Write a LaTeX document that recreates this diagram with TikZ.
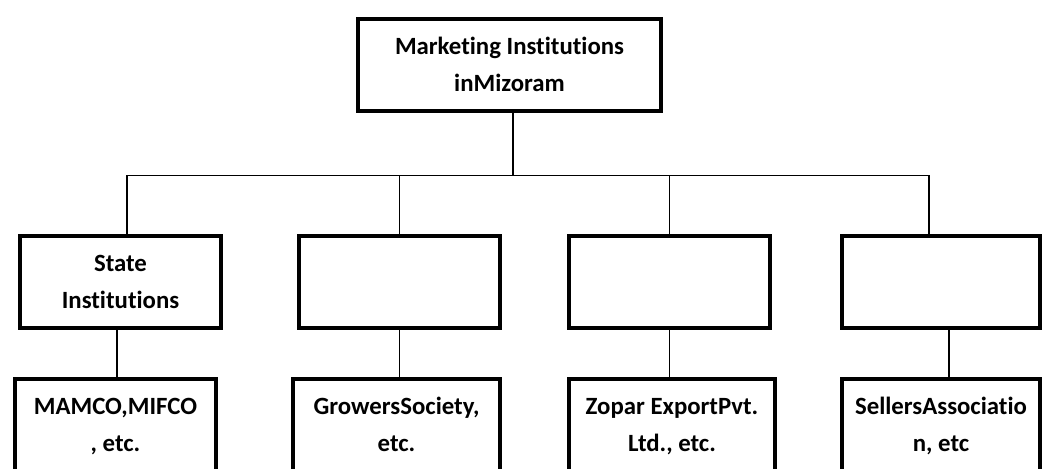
\documentclass[tikz,border=0pt]{standalone}
\usepackage{fontspec}
\setmainfont{Carlito}[Ligatures=NoCommon]
\usetikzlibrary{positioning}

\begin{document}
\begin{tikzpicture}[
        x=0.5pt, y=-0.5pt,
        box/.style={rectangle, draw, line width=2pt, align=center, inner sep=0pt,
          minimum height=46pt, text height=28.6pt, text depth=2.6pt,
          font=\fontsize{12.4}{18.5}\selectfont\bfseries},
        link/.style={line width=0.7pt}
      ]
      \useasboundingbox (0,0) rectangle (1044,468);
      \clip (0,0) rectangle (1044,468);

      % top
      \node[box, minimum width=151.5pt] (top) at (509.5,65) {Marketing Institutions\\ inMizoram};

      % second row
      \node[box, minimum width=100.5pt] (mid1) at (120.5,282) {State\\ Institutions};
      \node[box, minimum width=100.5pt] (mid2) at (399.5,282) {};
      \node[box, minimum width=100.5pt] (mid3) at (669.5,282) {};
      \node[box, minimum width=99pt]    (mid4) at (941,282) {};

      % third row
      \node[box, minimum width=100.5pt, minimum height=46.5pt] (bot1) at (115.5,425.5) {MAMCO,MIFCO\\ , etc.};
      \node[box, minimum width=103.5pt, minimum height=46.5pt] (bot2) at (396.5,425.5) {GrowersSociety,\\ etc.};
      \node[box, minimum width=103pt,   minimum height=46.5pt] (bot3) at (672,425.5) {Zopar ExportPvt.\\ Ltd., etc.};
      \node[box, minimum width=99pt,    minimum height=46.5pt] (bot4) at (941,425.5) {SellersAssociatio\\ n, etc};

      % connectors
      \draw[link] ([xshift=1.75pt]top.south) -- ++(0,62.5) coordinate (bus);
      \draw[link] ([xshift=3.25pt]mid1.north) |- (bus) -| ([xshift=-6pt]mid4.north);
      \draw[link] (mid2.north) -- (mid2.north |- bus);
      \draw[link] (mid3.north) -- (mid3.north |- bus);

      \draw[link] ([xshift=-1.75pt]mid1.south) -- ([xshift=-1.75pt]mid1.south |- bot1.north);
      \draw[link] (mid2.south) -- (mid2.south |- bot2.north);
      \draw[link] (mid3.south) -- (mid3.south |- bot3.north);
      \draw[link] ([xshift=4pt]mid4.south) -- ([xshift=4pt]mid4.south |- bot4.north);
\end{tikzpicture}
\end{document}
